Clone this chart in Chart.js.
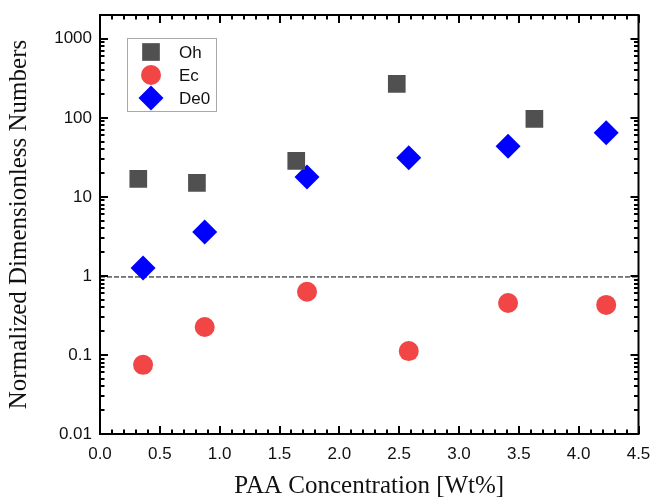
<!DOCTYPE html>
<html>
<head>
<meta charset="utf-8">
<script src="https://cdn.jsdelivr.net/npm/chart.js@4/dist/chart.umd.min.js"></script>
<style>
html,body{margin:0;padding:0;background:#fff;}
#wrap{width:651px;height:499px;position:relative;}
</style>
</head>
<body>
<div id="wrap"><canvas id="c" width="651" height="499"></canvas></div>
<script>
// ---- data ----
const seriesNames = ['Oh', 'Ec', 'De0'];
const concOh = [0.32, 0.81, 1.64, 2.48, 3.63];
const ohValues = [16.9, 15.0, 28.6, 269, 97];
const concEcDe = [0.36, 0.875, 1.73, 2.58, 3.41, 4.23];
const ecValues = [0.075, 0.226, 0.63, 0.112, 0.455, 0.43];
const de0Values = [1.26, 3.6, 17.9, 31.2, 43.6, 64.6];
const refLineX = [0, 4.5];
const refLineY = [0.97, 0.97];
const yTickValues = [0.01, 0.1, 1, 10, 100, 1000];
const xTickValues = [0, 0.5, 1, 1.5, 2, 2.5, 3, 3.5, 4, 4.5];

const pts = (xs, ys) => xs.map((x, i) => ({x: x, y: ys[i]}));

const styles = [
  {color: '#505050', shape: 'rect', radius: 12.5},
  {color: '#f24545', shape: 'circle', radius: 10},
  {color: '#0000ff', shape: 'rectRot', radius: 12.5}
];

function drawMarker(ctx, shape, x, y, r, color) {
  ctx.save();
  ctx.fillStyle = color;
  ctx.beginPath();
  if (shape === 'rect') {
    const h = r * Math.SQRT1_2;
    ctx.rect(x - h, y - h, 2 * h, 2 * h);
  } else if (shape === 'circle') {
    ctx.arc(x, y, r, 0, Math.PI * 2);
  } else {
    ctx.moveTo(x - r, y); ctx.lineTo(x, y - r); ctx.lineTo(x + r, y); ctx.lineTo(x, y + r); ctx.closePath();
  }
  ctx.fill();
  ctx.restore();
}

const framePlugin = {
  id: 'frame',
  afterDraw(chart) {
    const ctx = chart.ctx;
    const a = chart.chartArea;
    const xs = chart.scales.x, ys = chart.scales.y;
    ctx.save();
    ctx.strokeStyle = '#000';
    const major = 8, minor = 4.5;
    ctx.lineWidth = 2;
    ctx.beginPath();
    for (let v = 0; v <= 45; v++) {
      const val = v / 10;
      const px = Math.round(xs.getPixelForValue(val));
      const len = (v % 5 === 0) ? major : minor;
      ctx.moveTo(px, a.bottom); ctx.lineTo(px, a.bottom - len);
      ctx.moveTo(px, a.top); ctx.lineTo(px, a.top + len);
    }
    for (let d = -2; d <= 3; d++) {
      for (let m = 1; m <= 9; m++) {
        const val = m * Math.pow(10, d);
        if (val > ys.max + 1e-9 || val < ys.min - 1e-12) continue;
        const py = Math.round(ys.getPixelForValue(val));
        const len = (m === 1) ? major : minor;
        ctx.moveTo(a.left, py); ctx.lineTo(a.left + len, py);
        ctx.moveTo(a.right, py); ctx.lineTo(a.right - len, py);
      }
    }
    ctx.stroke();
    ctx.lineWidth = 2;
    ctx.strokeRect(a.left, a.top, a.right - a.left, a.bottom - a.top);
    // legend
    const lx = a.left + 27, ly = a.top + 23, lw = 89, lh = 73;
    ctx.lineWidth = 1;
    ctx.strokeStyle = '#a8a8a8';
    ctx.strokeRect(lx + 0.5, ly + 0.5, lw, lh);
    ctx.font = '17px "Liberation Sans", Arial, sans-serif';
    ctx.textBaseline = 'middle';
    ctx.textAlign = 'left';
    for (let i = 0; i < 3; i++) {
      const cy = ly + 14 + i * 23;
      drawMarker(ctx, styles[i].shape, lx + 24, cy, styles[i].radius, styles[i].color);
      ctx.fillStyle = '#111';
      ctx.fillText(chart.data.datasets[i].label, lx + 52, cy + 1);
    }
    ctx.restore();
  }
};

new Chart(document.getElementById('c'), {
  type: 'scatter',
  data: {
    datasets: [
      {label: seriesNames[0], data: pts(concOh, ohValues), pointStyle: 'rect', pointRadius: styles[0].radius,
       backgroundColor: styles[0].color, borderColor: styles[0].color, borderWidth: 0, pointHoverRadius: styles[0].radius},
      {label: seriesNames[1], data: pts(concEcDe, ecValues), pointStyle: 'circle', pointRadius: styles[1].radius,
       backgroundColor: styles[1].color, borderColor: styles[1].color, borderWidth: 0, pointHoverRadius: styles[1].radius},
      {label: seriesNames[2], data: pts(concEcDe, de0Values), pointStyle: 'rectRot', pointRadius: styles[2].radius,
       backgroundColor: styles[2].color, borderColor: styles[2].color, borderWidth: 0, pointHoverRadius: styles[2].radius},
      {label: 'ref', type: 'line', data: pts(refLineX, refLineY), borderColor: '#000', borderWidth: 1,
       borderDash: [5, 2], pointRadius: 0, showLine: true, fill: false, order: 10}
    ]
  },
  options: {
    responsive: false,
    animation: false,
    devicePixelRatio: 1,
    layout: {padding: {left: 0, right: 12, top: 15, bottom: 0}},
    plugins: {legend: {display: false}, tooltip: {enabled: false}},
    scales: {
      x: {
        type: 'linear', min: 0, max: 4.5,
        afterFit: s => { s.height = 65; s.paddingLeft = 0; s.paddingRight = 0; },
        afterBuildTicks: s => { s.ticks = xTickValues.map(v => ({value: v})); },
        grid: {display: false, drawTicks: false},
        border: {display: false},
        ticks: {
          padding: 10, color: '#111', maxRotation: 0, autoSkip: false,
          font: {family: '"Liberation Sans", Arial, sans-serif', size: 17},
          callback: v => Number(v).toFixed(1)
        },
        title: {
          display: true, text: 'PAA Concentration [Wt%]', color: '#111',
          font: {family: '"Liberation Serif", "Times New Roman", serif', size: 25, lineHeight: 1},
          padding: {top: 0, bottom: 0}
        }
      },
      y: {
        type: 'logarithmic', min: 0.01, max: 2000,
        afterFit: s => { s.width = 100; s.paddingTop = 0; s.paddingBottom = 0; },
        afterBuildTicks: s => { s.ticks = yTickValues.map(v => ({value: v})); },
        grid: {display: false, drawTicks: false},
        border: {display: false},
        ticks: {
          padding: 8, color: '#111', autoSkip: false,
          font: {family: '"Liberation Sans", Arial, sans-serif', size: 17},
          callback: v => String(v)
        },
        title: {
          display: true, text: 'Normalized Dimensionless Numbers', color: '#111',
          font: {family: '"Liberation Serif", "Times New Roman", serif', size: 25, lineHeight: 1},
          padding: {top: 7, bottom: 0}
        }
      }
    }
  },
  plugins: [framePlugin]
});
</script>
</body>
</html>
